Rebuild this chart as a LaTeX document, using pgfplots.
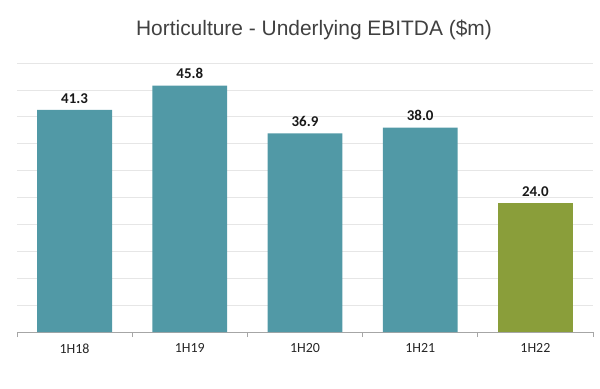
\documentclass[border=0pt]{standalone}
\usepackage{pgfplots}
\pgfplotsset{compat=1.18}
\usepackage{fontspec}
\setmainfont{Carlito}
\newfontfamily\titlefont{Liberation Sans}
\definecolor{teal1}{HTML}{5199A6}
\definecolor{green1}{HTML}{8A9E3A}
\definecolor{gridc}{HTML}{E6E6E6}
\definecolor{axc}{HTML}{A6A6A6}
\begin{document}
\begin{tikzpicture}[x=1bp,y=1bp]
\path[use as bounding box] (-17,-56) rectangle (583,332);
\begin{axis}[
  at={(0,0)}, anchor=south west,
  scale only axis, width=576bp, height=269bp,
  xmin=-0.5, xmax=4.5, ymin=0, ymax=50,
  axis x line*=bottom, axis y line*=left,
  x axis line style={draw=axc, line width=0.8pt},
  y axis line style={draw=none},
  xtick={-0.5,0.5,1.5,2.5,3.5,4.5}, xticklabels={},
  x tick style={draw=axc, line width=0.8pt},
  major tick length=5bp, tick align=outside,
  extra x ticks={0,1,2,3,4},
  extra x tick labels={1H18,1H19,1H20,1H21,1H22},
  extra x tick style={major tick length=0pt, grid=none},
  x tick label style={font=\fontsize{14}{16}\selectfont, text=black!85, yshift=-8bp},
  ytick={0,5,...,50}, yticklabels={}, y tick style={draw=none},
  ymajorgrids, grid style={draw=gridc, line width=0.8pt},
  ybar, bar width=0.65, bar shift=0pt,
  nodes near coords,
  /pgf/number format/.cd, fixed, fixed zerofill, precision=1, assume math mode=true,
  /pgfplots/.cd,
  every node near coord/.append style={font=\bfseries\fontsize{15}{17}\selectfont, text=black!90, yshift=3bp},
  clip=false,
]
\addplot[fill=teal1, draw=none] coordinates {(0,41.3) (1,45.8) (2,36.9) (3,38.0)};
\addplot[fill=green1, draw=none] coordinates {(4,24.0)};
\end{axis}
\node[font=\titlefont\fontsize{21}{24}\selectfont, text=black!75] at (297,302) {Horticulture - Underlying EBITDA (\$m)};
\end{tikzpicture}
\end{document}
